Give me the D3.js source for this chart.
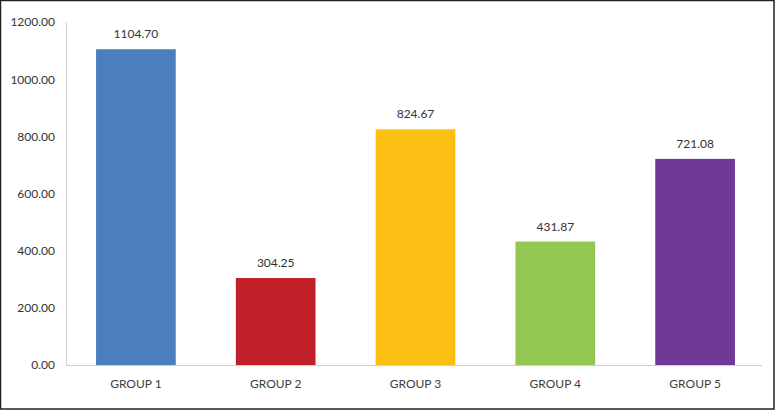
<!DOCTYPE html>
<html><head><meta charset="utf-8">
<script src="https://cdn.jsdelivr.net/npm/d3@7"></script>
<style>
html,body{margin:0;padding:0;background:#fff;}
svg{display:block;}
text{font-family:Lato,"Open Sans",sans-serif;}
</style></head>
<body>
<script>
const categories = ["GROUP 1","GROUP 2","GROUP 3","GROUP 4","GROUP 5"];
const values = [1104.70, 304.25, 824.67, 431.87, 721.08];
const colors = ["#4a7ebf","#c0202a","#fcbf14","#92c852","#6f3996"];
const yTicks = [0,200,400,600,800,1000,1200];

const W = 775, H = 410;
const svg = d3.select("body").append("svg").attr("width",W).attr("height",H);
svg.append("rect").attr("x",0.5).attr("y",0.5).attr("width",W-1.5).attr("height",H-1.5)
  .attr("fill","#fff").attr("stroke","#222").attr("stroke-width",1.5);

const x = d3.scaleBand().domain(categories).range([66,765]).paddingInner(0.43).paddingOuter(0.215);
const y = d3.scaleLinear().domain([0,1200]).range([365,22]);

// y axis
const yAxis = svg.append("g").attr("transform","translate(66,0)")
  .call(d3.axisLeft(y).tickValues(yTicks).tickFormat(d3.format(".2f")).tickSize(0).tickPadding(11));
yAxis.select(".domain").attr("stroke","#d4d4d4").attr("stroke-width",1.2);
yAxis.selectAll("text").attr("font-size",12).attr("fill","#333");

// bars
svg.selectAll("rect.bar").data(values).join("rect").attr("class","bar")
  .attr("x",(d,i)=>x(categories[i])).attr("width",x.bandwidth())
  .attr("y",d=>y(d)).attr("height",d=>y(0)-y(d)).attr("fill",(d,i)=>colors[i]);

// x axis
const xAxis = svg.append("g").attr("transform","translate(0,365)")
  .call(d3.axisBottom(x).tickSize(0).tickPadding(14));
xAxis.select(".domain").attr("stroke","#cfcfcf").attr("stroke-width",1.2).attr("d","M66,0.5H762");
xAxis.selectAll("text").attr("font-size",12).attr("fill","#404040");

// value labels
svg.selectAll("text.val").data(values).join("text").attr("class","val")
  .attr("x",(d,i)=>x(categories[i])+x.bandwidth()/2).attr("y",d=>y(d)-11)
  .attr("text-anchor","middle").attr("font-size",12).attr("fill","#333")
  .text(d=>d3.format(".2f")(d));
</script>
</body></html>
